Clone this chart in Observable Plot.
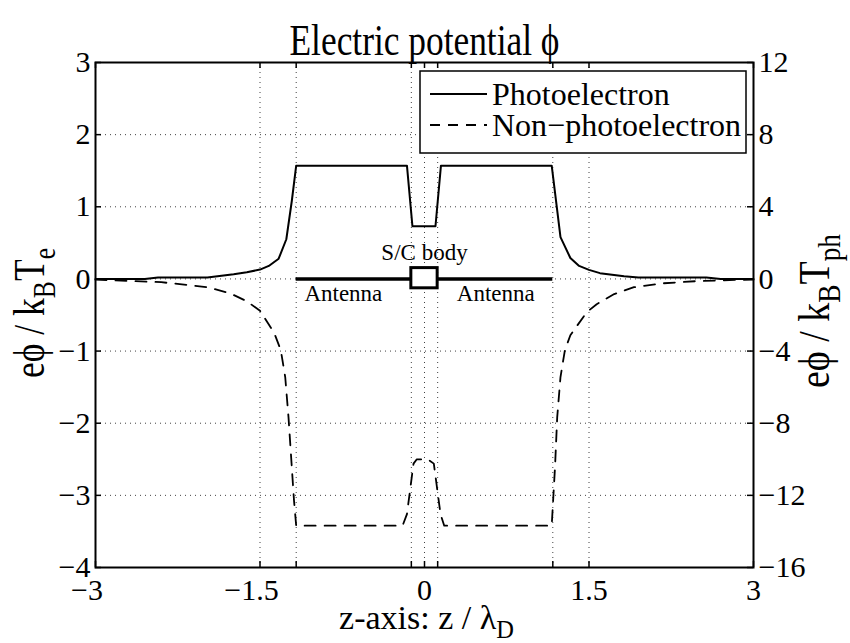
<!DOCTYPE html>
<html>
<head>
<meta charset="utf-8">
<script src="https://cdn.jsdelivr.net/npm/d3@7"></script>
<script src="https://cdn.jsdelivr.net/npm/@observablehq/plot@0.6"></script>
<style>
  html, body { margin: 0; padding: 0; background: #fff; }
  body { width: 850px; height: 643px; overflow: hidden; }
</style>
</head>
<body>
<div id="chart"></div>
<script>
const FONT = '"Liberation Serif", "Times New Roman", Times, serif';

// ---- axes ----
const xDomain = [-3, 3];
const yLeftDomain = [-4, 3];
const yRightDomain = [-16, 12];
const xTickLabels = [-3, -1.5, 0, 1.5, 3];
const xTickMarks = [-3, -1.5, -1.17, -0.12, 0, 0.12, 1.17, 1.5, 3];
const yLeftTicks = [-4, -3, -2, -1, 0, 1, 2, 3];
const yRightTicks = [-16, -12, -8, -4, 0, 4, 8, 12];

// ---- texts ----
const titleText = "Electric potential \u03D5";
const xLabelParts = [["z-axis: z / \u03BB", false], ["D", true]];
const yLeftLabelParts = [["e\u03D5 / k", false], ["B", true], ["T", false], ["e", true]];
const yRightLabelParts = [["e\u03D5 / k", false], ["B", true], ["T", false], ["ph", true]];
const seriesNames = ["Photoelectron", "Non\u2212photoelectron"];

// ---- series (in units of the left axis) ----
const photoZ = [-3, -2.55, -2.43, -1.98, -1.74, -1.62, -1.5, -1.42, -1.33, -1.26, -1.21, -1.17,
                -0.16, -0.11, 0.10, 0.15,
                1.16, 1.24, 1.33, 1.41, 1.5, 1.6, 1.82, 1.95, 2.57, 2.7, 3];
const photoPhi = [0, 0, 0.02, 0.02, 0.065, 0.093, 0.13, 0.18, 0.28, 0.55, 1.08, 1.57,
                  1.57, 0.73, 0.73, 1.57,
                  1.57, 0.58, 0.29, 0.18, 0.126, 0.08, 0.037, 0.02, 0.02, 0, 0];

const nonPhotoZ = [-3, -2.4, -1.98, -1.77, -1.62, -1.5, -1.37, -1.31, -1.27, -1.24, -1.21, -1.19, -1.17,
                   -0.2, -0.16, -0.1, -0.07, 0.03, 0.085, 0.146, 0.18,
                   1.16, 1.19, 1.21, 1.24, 1.28, 1.33, 1.48, 1.57, 1.73, 1.91, 2.18, 2.49, 2.85, 3];
const nonPhotoPhi = [-0.01, -0.045, -0.115, -0.2, -0.31, -0.44, -0.75, -0.99, -1.36, -1.92, -2.61, -3.07, -3.42,
                     -3.42, -3.26, -2.56, -2.5, -2.5, -2.56, -3.26, -3.42,
                     -3.42, -2.61, -1.92, -1.36, -0.99, -0.78, -0.46, -0.35, -0.21, -0.115, -0.06, -0.03, -0.013, -0.01];

// ---- spacecraft sketch ----
const antennaZ = [-1.17, 1.17];
const bodyZ = [-0.12, 0.12];
const bodyPhi = [-0.13, 0.15];
const annotationText = ["S/C body", "Antenna", "Antenna"];
const annotationZ = [0, -0.74, 0.65];
const annotationPhi = [0.37, -0.2, -0.2];

// ---- build tables ----
const photo = photoZ.map((z, i) => ({z, phi: photoPhi[i]}));
const nonPhoto = nonPhotoZ.map((z, i) => ({z, phi: nonPhotoPhi[i]}));
const annotations = annotationText.map((t, i) => ({t, z: annotationZ[i], phi: annotationPhi[i]}));
const toLeft = d3.scaleLinear(yRightDomain, yLeftDomain);
const fmt = d => (d < 0 ? "\u2212" : "") + Math.abs(d);
const plain = parts => parts.map(p => p[0]).join("");

const W = 850, H = 643, ML = 95, MR = 97, MT = 62, MB = 76;
const FW = W - ML - MR, FH = H - MT - MB;
const TICK = 6;
const gridStyle = {stroke: "#000", strokeOpacity: 0.75, strokeWidth: 1, strokeDasharray: "1,4"};

const chart = Plot.plot({
  width: W, height: H,
  marginLeft: ML, marginRight: MR, marginTop: MT, marginBottom: MB,
  x: {domain: xDomain, axis: null},
  y: {domain: yLeftDomain, axis: null},
  style: {fontFamily: FONT, background: "white", color: "black", overflow: "visible"},
  marks: [
    Plot.ruleX(xTickMarks, {x: d => d, ...gridStyle}),
    Plot.ruleY(yLeftTicks, {y: d => d, ...gridStyle}),
    Plot.line(photo, {x: "z", y: "phi", stroke: "black", strokeWidth: 2}),
    Plot.line(nonPhoto, {x: "z", y: "phi", stroke: "black", strokeWidth: 1.8, strokeDasharray: "11,9"}),
    Plot.ruleY([{y: 0, x1: antennaZ[0], x2: antennaZ[1]}], {y: "y", x1: "x1", x2: "x2", stroke: "black", strokeWidth: 3.5}),
    Plot.rect([{x1: bodyZ[0], x2: bodyZ[1], y1: bodyPhi[0], y2: bodyPhi[1]}],
      {x1: "x1", x2: "x2", y1: "y1", y2: "y2", fill: "white", stroke: "black", strokeWidth: 3}),
    Plot.text(annotations, {x: "z", y: "phi", text: "t", fontSize: 23, fill: "black"}),
    // inward tick marks
    Plot.tickX(xTickMarks, {x: d => d, insetTop: FH - TICK, stroke: "black", strokeWidth: 1.5}),
    Plot.tickX(xTickMarks, {x: d => d, insetBottom: FH - TICK, stroke: "black", strokeWidth: 1.5}),
    Plot.tickY(yLeftTicks, {y: d => d, insetRight: FW - TICK, stroke: "black", strokeWidth: 1.5}),
    Plot.tickY(yRightTicks, {y: d => toLeft(d), insetLeft: FW - TICK, stroke: "black", strokeWidth: 1.5}),
    Plot.frame({stroke: "black", strokeWidth: 2}),
    // tick labels
    Plot.text(yLeftTicks, {y: d => d, frameAnchor: "left", textAnchor: "end", lineAnchor: "middle", dx: -5, text: fmt, fontSize: 30, fill: "black"}),
    Plot.text(yRightTicks, {y: d => toLeft(d), frameAnchor: "right", textAnchor: "start", lineAnchor: "middle", dx: 5, text: fmt, fontSize: 30, fill: "black"}),
    Plot.text(xTickLabels.filter(d => d >= 0), {x: d => d, frameAnchor: "bottom", lineAnchor: "middle", dy: 23, text: fmt, fontSize: 30, fill: "black"}),
    Plot.text(xTickLabels.filter(d => d < 0), {x: d => d, frameAnchor: "bottom", lineAnchor: "middle", dy: 23, dx: -8.5, text: fmt, fontSize: 30, fill: "black"}),
    // title & axis labels
    Plot.text([titleText], {text: d => d, frameAnchor: "top", lineAnchor: "bottom", dy: -7.5, fontSize: 44, fill: "black"}),
    Plot.text([plain(xLabelParts)], {text: d => d, frameAnchor: "bottom", lineAnchor: "bottom", dy: 61, dx: 2, fontSize: 34, fill: "black"}),
    Plot.text([plain(yLeftLabelParts)], {text: d => d, frameAnchor: "left", textAnchor: "middle", lineAnchor: "bottom", rotate: -90, dx: -52, dy: -2, fontSize: 44, fill: "black"}),
    Plot.text([plain(yRightLabelParts)], {text: d => d, frameAnchor: "right", textAnchor: "middle", lineAnchor: "bottom", rotate: -90, dx: 75, dy: -4, fontSize: 44, fill: "black"})
  ]
});
document.getElementById("chart").appendChild(chart);

const svg = d3.select(chart);
const findText = s => svg.selectAll("text").filter(function() { return this.textContent === s; });

function richText(parts, shift, length) {
  const t = findText(plain(parts));
  t.text(null);
  let inSub = false;
  for (const [s, sub] of parts) {
    const ts = t.append("tspan").text(s);
    if (sub && !inSub) ts.attr("dy", shift).attr("font-size", "72%");
    else if (!sub && inSub) ts.attr("dy", -shift);
    else if (sub) ts.attr("font-size", "72%");
    inSub = sub;
  }
  if (length) t.attr("textLength", length).attr("lengthAdjust", "spacingAndGlyphs");
}
richText(xLabelParts, 9, null);
richText(yLeftLabelParts, 11, 130);
richText(yRightLabelParts, 11, 154);
findText(titleText).attr("textLength", 270).attr("lengthAdjust", "spacingAndGlyphs");

// ---- legend (inside the axes, top right) ----
const legend = svg.append("g").attr("font-family", FONT).attr("font-size", 32).attr("text-anchor", "start");
legend.append("rect").attr("x", 420).attr("y", 71).attr("width", 326).attr("height", 82)
  .attr("fill", "white").attr("stroke", "black").attr("stroke-width", 1.5);
const legendDash = [null, "10,8"];
seriesNames.forEach((name, i) => {
  const cy = 94 + i * 31;
  legend.append("line").attr("x1", 430).attr("x2", 487).attr("y1", cy).attr("y2", cy)
    .attr("stroke", "black").attr("stroke-width", 2)
    .attr("stroke-dasharray", legendDash[i]);
  legend.append("text").attr("x", 492).attr("y", cy + 11).attr("text-anchor", "start").attr("fill", "black").text(name);
});
</script>
</body>
</html>
